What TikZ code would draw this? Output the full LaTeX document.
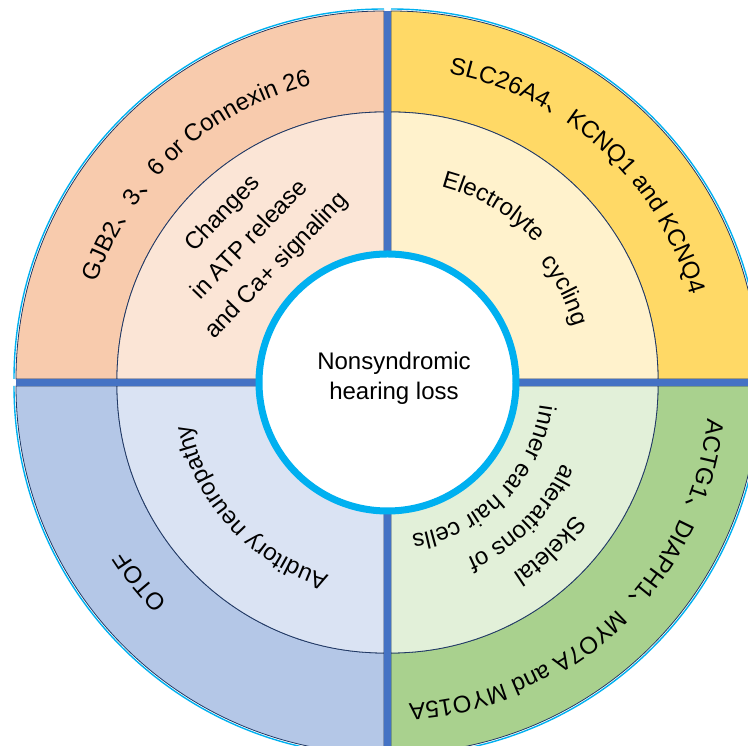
\documentclass[tikz,border=0pt]{standalone}
\usepackage{fontspec}
\setmainfont{Liberation Sans}
\newfontfamily\cjk{Noto Sans CJK SC}
\usepackage{xcolor}
\usepackage{tikz}
\tikzset{every picture/.style={font issue=\fontsize{24}{30}},
         font issue/.style={execute at begin picture={#1\selectfont}}
        }
\usetikzlibrary{decorations.text}
\usetikzlibrary{positioning}
\definecolor{tlout}{HTML}{F8CBAD}
\definecolor{tlin}{HTML}{FBE5D6}
\definecolor{trout}{HTML}{FFD966}
\definecolor{trin}{HTML}{FFF2CC}
\definecolor{brout}{HTML}{A9D18E}
\definecolor{brin}{HTML}{E2F0D9}
\definecolor{blout}{HTML}{B4C7E7}
\definecolor{blin}{HTML}{DAE3F3}
\definecolor{barblue}{HTML}{4472C4}
\definecolor{ringblue}{HTML}{00B0F0}
\definecolor{navy}{HTML}{203864}
\tikzstyle{sector}=[draw=navy,line width=0.8]
\tikzstyle{glow}=[draw=ringblue,line width=1.4]
\tikzstyle{bar}=[draw=barblue,line width=7]
\tikzstyle{hub}=[circle,draw=ringblue,fill=white,line width=7,minimum size=257,inner sep=0]
\tikzstyle{words}=[align=center,text=black,font=\fontsize{24}{37.5}\selectfont]
\tikzset{ringtext/.style={decorate,decoration={text along path,text align=center,text={#1}}}}

\begin{document}
\begin{tikzpicture}[x=1pt,y=1pt]
	\useasboundingbox (0,0) rectangle (748,746);
	\clip (0,0) rectangle (748,746);

	\def\Rout{368}
	\def\Rmid{267}
	\coordinate (c) at (387.5,363.5);
	\coordinate (tl) at (384,367);
	\coordinate (tr) at (391,367);
	\coordinate (br) at (391,360);
	\coordinate (bl) at (384,360);

% % % upper left
	\draw[glow] ([shift={(90:370)}]tl) arc[start angle=90,end angle=180,radius=370];
	\path[sector,fill=tlout] ([shift={(90:\Rout)}]tl) arc[start angle=90,end angle=180,radius=\Rout]
		-- ([shift={(180:\Rmid)}]tl) arc[start angle=180,end angle=90,radius=\Rmid] -- cycle;
	\path[sector,fill=tlin] (tl) -- ([shift={(90:\Rmid)}]tl)
		arc[start angle=90,end angle=180,radius=\Rmid] -- cycle;

% % % upper right
	\draw[glow] ([shift={(0:370)}]tr) arc[start angle=0,end angle=90,radius=370];
	\path[sector,fill=trout] ([shift={(0:\Rout)}]tr) arc[start angle=0,end angle=90,radius=\Rout]
		-- ([shift={(90:\Rmid)}]tr) arc[start angle=90,end angle=0,radius=\Rmid] -- cycle;
	\path[sector,fill=trin] (tr) -- ([shift={(0:\Rmid)}]tr)
		arc[start angle=0,end angle=90,radius=\Rmid] -- cycle;

% % % lower right
	\draw[glow] ([shift={(270:370)}]br) arc[start angle=270,end angle=360,radius=370];
	\path[sector,fill=brout] ([shift={(270:\Rout)}]br) arc[start angle=270,end angle=360,radius=\Rout]
		-- ([shift={(0:\Rmid)}]br) arc[start angle=360,end angle=270,radius=\Rmid] -- cycle;
	\path[sector,fill=brin] (br) -- ([shift={(270:\Rmid)}]br)
		arc[start angle=270,end angle=360,radius=\Rmid] -- cycle;

% % % lower left
	\draw[glow] ([shift={(180:370)}]bl) arc[start angle=180,end angle=270,radius=370];
	\path[sector,fill=blout] ([shift={(180:\Rout)}]bl) arc[start angle=180,end angle=270,radius=\Rout]
		-- ([shift={(270:\Rmid)}]bl) arc[start angle=270,end angle=180,radius=\Rmid] -- cycle;
	\path[sector,fill=blin] (bl) -- ([shift={(180:\Rmid)}]bl)
		arc[start angle=180,end angle=270,radius=\Rmid] -- cycle;

% % % bars and hub
	\draw[bar] ([yshift=371]c) -- ([yshift=-371]c);
	\draw[bar] ([xshift=-372]c) -- ([xshift=372]c);

	\node[hub] (hub) at (c) {};
	\node[words,font=\fontsize{24}{30}\selectfont] (nhl) at (394,368) {Nonsyndromic\\hearing loss};

% % % outer ring
	\path[ringtext={GJB2|\cjk|、||3|\cjk|、||6 or Connexin 26}]
		([shift={(182.6:303)}]tl) arc[start angle=182.6,end angle=82.6,radius=303];
	\path[ringtext={SLC26A4|\cjk|、||KCNQ1 and KCNQ4}]
		([shift={(97.5:311)}]tr) arc[start angle=97.5,end angle=-2.5,radius=311];
	\path[ringtext={ACTG1|\cjk|、||DIAPH1|\cjk|、||MYO7A and MYO15A}]
		([shift={(3.7:318)}]br) arc[start angle=3.7,end angle=-96.3,radius=318];
	\path[ringtext={OTOF}]
		([shift={(268.7:306)}]bl) arc[start angle=268.7,end angle=168.7,radius=306];

% % % inner ring
	\node[words,rotate=46] (atp) at ([shift={(134:193)}]tl) {Changes\\in ATP release\\and Ca+ signaling};

	\path[ringtext={Electrolyte}]
		([shift={(89.3:199)}]tr) arc[start angle=89.3,end angle=29.3,radius=199];
	\path[ringtext={cycling}]
		([shift={(57:190)}]tr) arc[start angle=57,end angle=-3,radius=190];

	\path[ringtext={Skeletal}]
		([shift={(4:224)}]br) arc[start angle=4,end angle=-96,radius=224];
	\path[ringtext={alterations of}]
		([shift={(4.7:188)}]br) arc[start angle=4.7,end angle=-95.3,radius=188];
	\path[ringtext={inner ear hair cells}]
		([shift={(5.3:150)}]br) arc[start angle=5.3,end angle=-94.7,radius=150];

	\path[ringtext={Auditory neuropathy}]
		([shift={(272.5:197)}]bl) arc[start angle=272.5,end angle=172.5,radius=197];

\end{tikzpicture}
\end{document}
